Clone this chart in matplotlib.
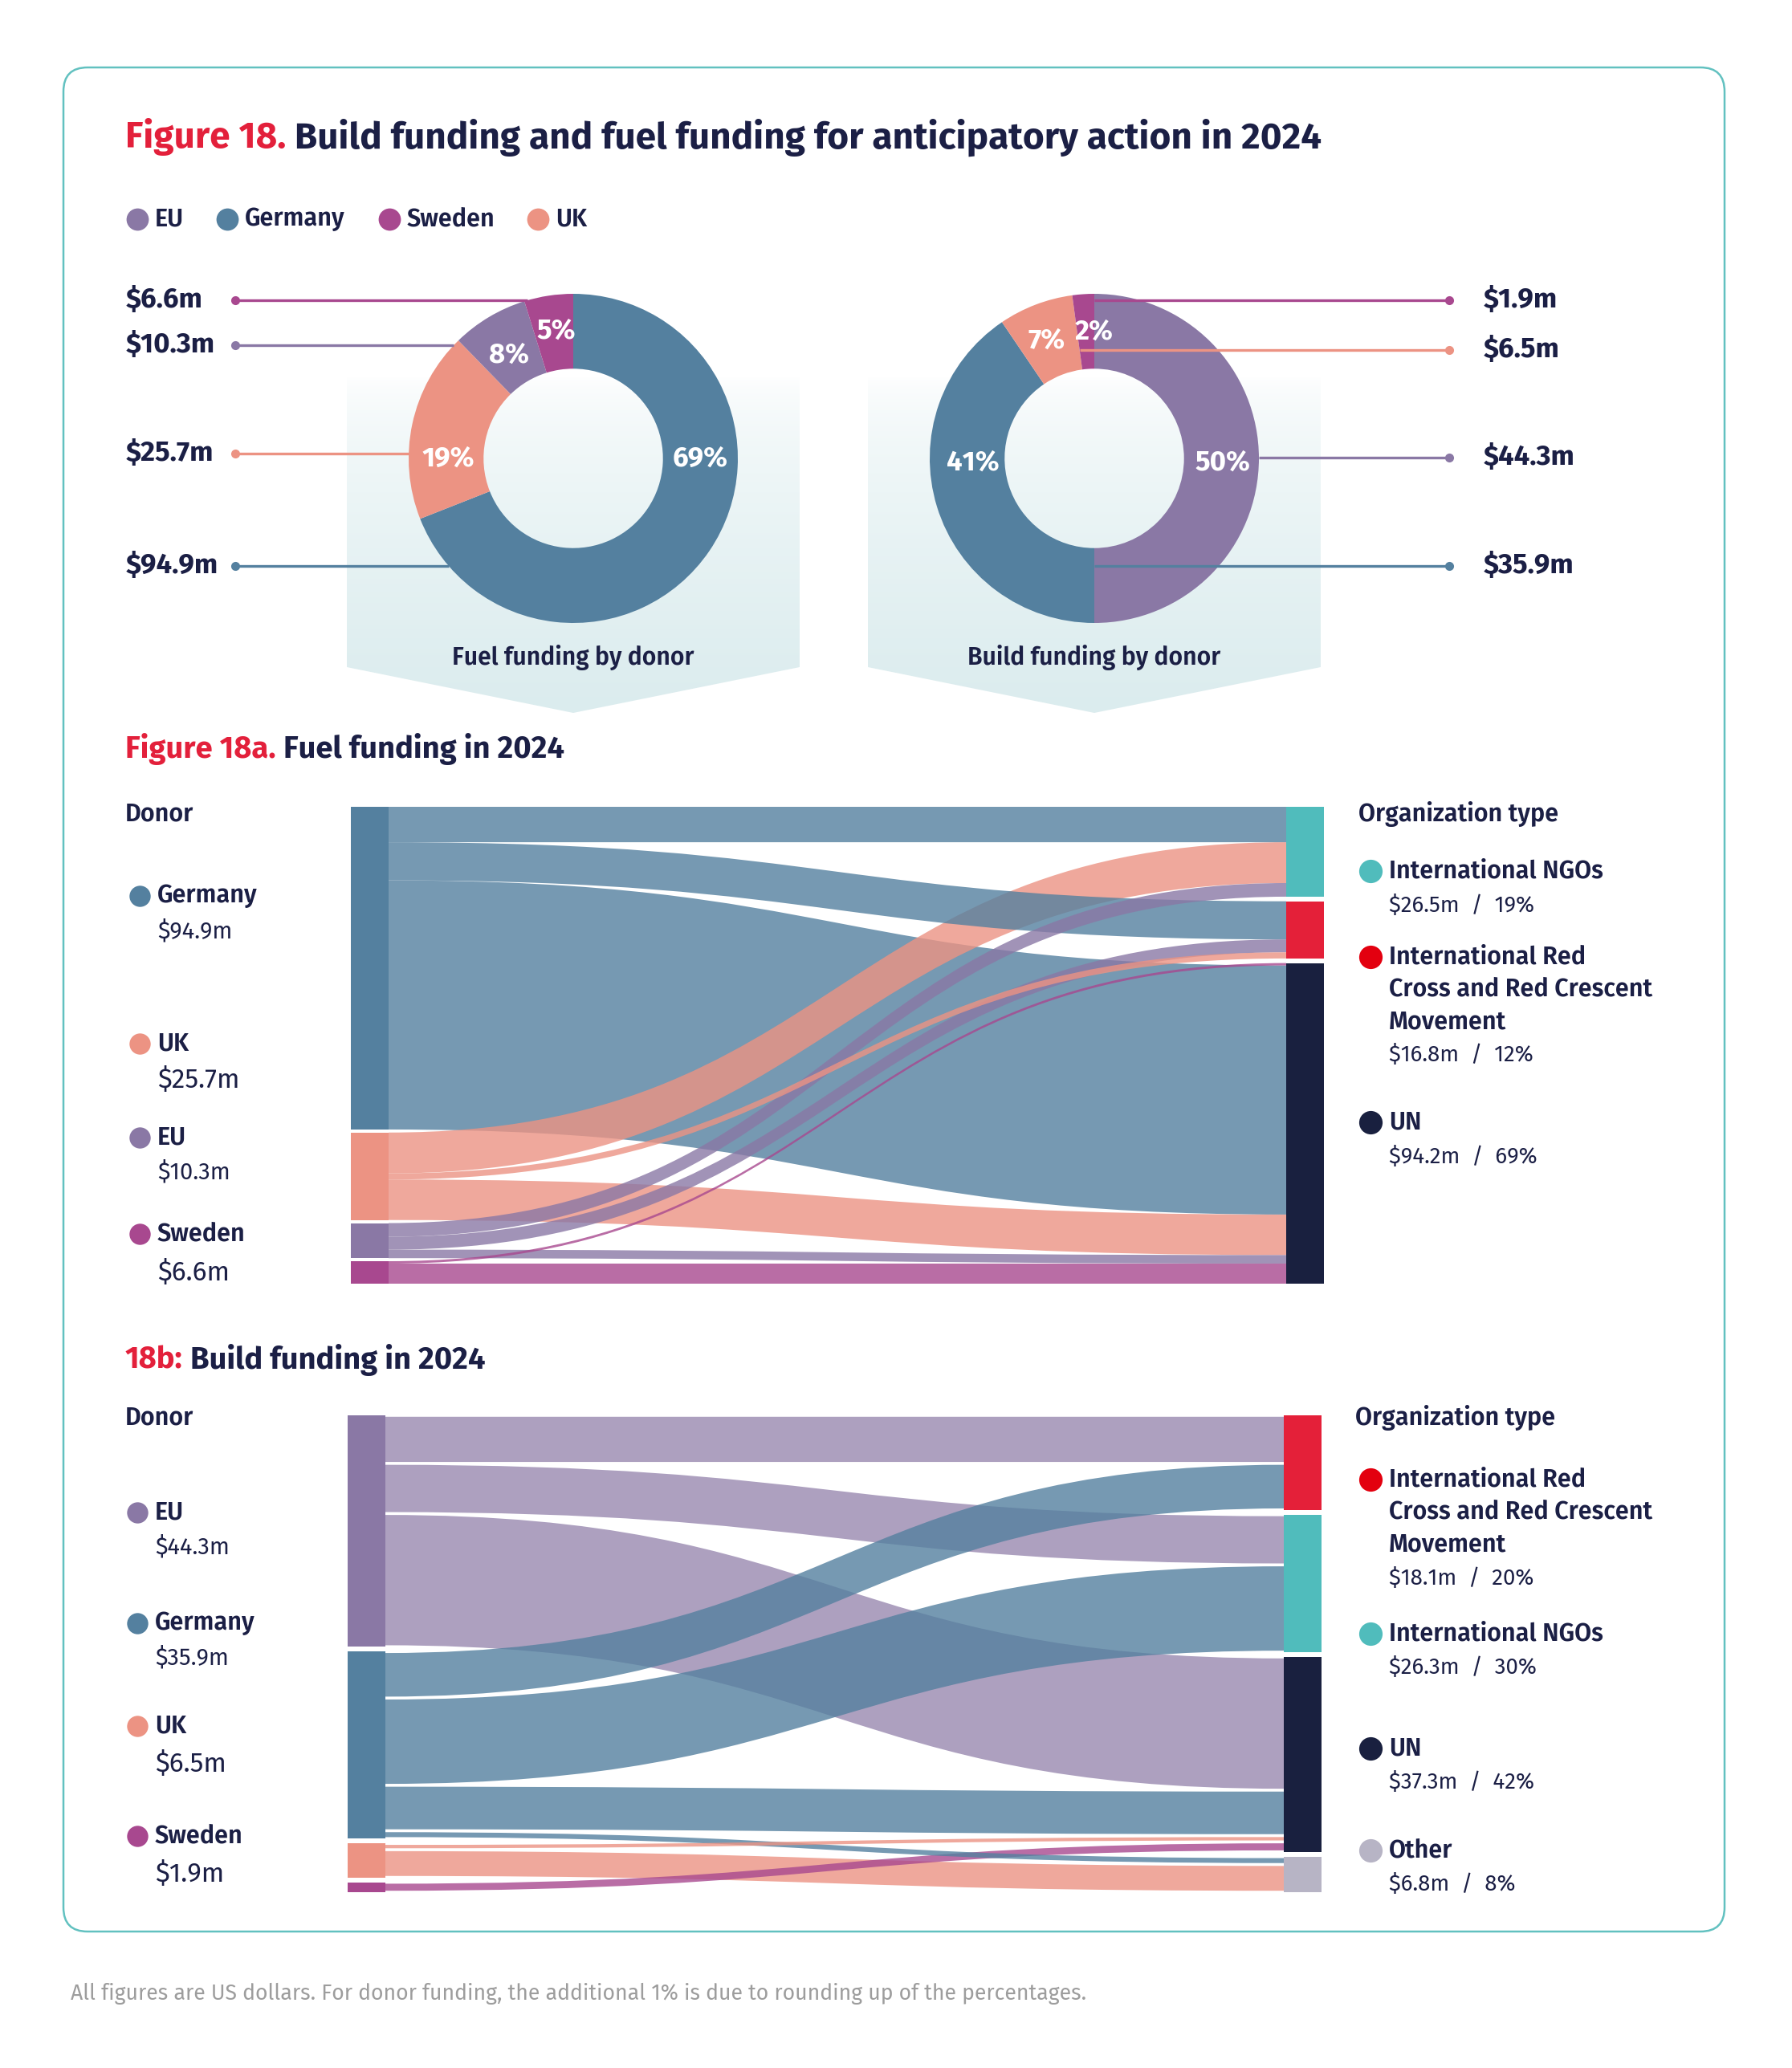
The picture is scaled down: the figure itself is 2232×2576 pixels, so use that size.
import numpy as np
import matplotlib
matplotlib.use("Agg")
import matplotlib.pyplot as plt
from matplotlib import font_manager
from matplotlib.patches import FancyBboxPatch, Polygon, PathPatch, Rectangle
from matplotlib.path import Path
from matplotlib.colors import to_rgb

W, H = 2232, 2576

available = {f.name for f in font_manager.fontManager.ttflist}
FONT = next(f for f in ["Fira Sans", "Open Sans", "Roboto", "DejaVu Sans"] if f in available)
plt.rcParams["font.family"] = FONT

NAVY = "#1b1f45"
RED = "#e3203b"
GREY = "#9d9d9d"
TEAL_LINE = "#62c1c0"

# ---------------- data ----------------
donor_colors = {"Germany": "#54809f", "UK": "#ec9383", "EU": "#8a78a5", "Sweden": "#a8488f"}
legend_donors = ["EU", "Germany", "Sweden", "UK"]

fuel_donors = ["Germany", "UK", "EU", "Sweden"]
fuel_amounts = [94.9, 25.7, 10.3, 6.6]
fuel_pct = ["69%", "19%", "8%", "5%"]

build_donors = ["EU", "Germany", "UK", "Sweden"]
build_amounts = [44.3, 35.9, 6.5, 1.9]
build_pct = ["50%", "41%", "7%", "2%"]

org_names = {"NGO": "International NGOs",
             "RC": "International Red\nCross and Red Crescent\nMovement",
             "UN": "UN", "Other": "Other"}
org_colors = {"NGO": "#50bcbc", "RC": "#e42039", "UN": "#19203f", "Other": "#b7b4c5"}
org_dot_colors = {"NGO": "#50bcbc", "RC": "#e3000f", "UN": "#19203f", "Other": "#b7b4c5"}

fuel_orgs = ["NGO", "RC", "UN"]
fuel_org_amounts = [26.5, 16.8, 94.2]
fuel_org_pct = [19, 12, 69]

build_orgs = ["RC", "NGO", "UN", "Other"]
build_org_amounts = [18.1, 26.3, 37.3, 6.8]
build_org_pct = [20, 30, 42, 8]

# flows donor -> organization type ($m)
fuel_src = ["Germany", "UK", "EU", "Germany", "EU", "UK", "Sweden", "Germany", "UK", "EU", "Sweden"]
fuel_dst = ["NGO", "NGO", "NGO", "RC", "RC", "RC", "UN", "UN", "UN", "UN", "UN"]
fuel_val = [10.5, 12.0, 4.0, 11.2, 3.8, 1.8, 0.7, 73.2, 11.9, 2.5, 5.9]

build_src = ["EU", "Germany", "EU", "Germany", "EU", "Germany", "UK", "Sweden", "Germany", "UK"]
build_dst = ["RC", "RC", "NGO", "NGO", "UN", "UN", "UN", "UN", "Other", "Other"]
build_val = [9.2, 8.9, 9.6, 16.7, 25.5, 8.7, 1.2, 1.9, 1.5, 5.3]

# ---------------- figure ----------------
fig = plt.figure(figsize=(W / 100, H / 100), dpi=100)
fig.patch.set_facecolor("white")

ax_bg = fig.add_axes([0, 0, 1, 1], zorder=0)
ax_bg.set_xlim(0, W)
ax_bg.set_ylim(H, 0)
ax_bg.axis("off")

ax = fig.add_axes([0, 0, 1, 1], zorder=5)
ax.set_xlim(0, W)
ax.set_ylim(H, 0)
ax.axis("off")
ax.patch.set_alpha(0)


def txt(x, y, s, size, color=NAVY, weight="normal", ha="left", va="center", **kw):
    return ax.text(x, y, s, fontsize=size, color=color, fontweight=weight, ha=ha, va=va, **kw)


# frame
ax_bg.add_patch(FancyBboxPatch((79, 84), 2069, 2322, boxstyle="round,pad=0,rounding_size=30",
                               ec=TEAL_LINE, fc="none", lw=1.8))

# title
t1 = txt(156, 171, "Figure 18.", 33, RED, "bold")
ax.annotate(" Build funding and fuel funding for anticipatory action in 2024", xy=(1, 0.5),
            xycoords=t1, va="center", ha="left", fontsize=33, color=NAVY, fontweight="bold")

# legend
legend_x = [171, 283, 485, 670]
for name, lx in zip(legend_donors, legend_x):
    ax.plot(lx, 273, "o", ms=20, color=donor_colors[name], mec="none")
    txt(lx + 22, 273, name, 22, weight="semibold")

# gradient panels behind donuts
top_c = np.array(to_rgb("#ffffff"))
bot_c = np.array(to_rgb("#dbecee"))
t = np.linspace(0, 1, 256) ** 0.6
grad = (top_c[None, :] * (1 - t[:, None]) + bot_c[None, :] * t[:, None])[:, None, :]
for cx in (714, 1363):
    poly = Polygon([(cx - 282, 469), (cx + 282, 469), (cx + 282, 831), (cx, 888), (cx - 282, 831)],
                   closed=True, fc="none", ec="none")
    ax_bg.add_patch(poly)
    im = ax_bg.imshow(grad, extent=(cx - 282, cx + 282, 888, 469), aspect="auto", zorder=1)
    im.set_clip_path(poly)
ax_bg.set_xlim(0, W)
ax_bg.set_ylim(H, 0)

# donuts
R = 205
CY = 571


def donut(cx, donors, amounts, pct, pct_pos, label_y, anchors, side, title):
    pa = fig.add_axes([(cx - R) / W, 1 - (CY + R) / H, 2 * R / W, 2 * R / H], zorder=3)
    pa.pie(amounts, colors=[donor_colors[d] for d in donors], startangle=90, counterclock=False,
           radius=1, wedgeprops=dict(width=0.455, edgecolor="none"))
    pa.set_xlim(-1, 1)
    pa.set_ylim(-1, 1)
    pa.set_aspect("auto")
    pa.axis("off")
    for s, (ang, r) in zip(pct, pct_pos):
        a = np.deg2rad(ang)
        pa.text(r * np.cos(a), r * np.sin(a), s, ha="center", va="center", color="white",
                fontsize=25, fontweight="bold")
    # leader lines and value labels
    for d, amt, ly, anc in zip(donors, amounts, label_y, anchors):
        dy = (CY - ly) / R
        if anc == "edge":
            x_end = cx + side * np.sqrt(max(1 - dy ** 2, 0)) * R
        else:
            x_end = cx + anc * R
        dot_x, lab_x = (293, 157) if side < 0 else (1805, 1848)
        ax.plot([dot_x, x_end], [ly, ly], color=donor_colors[d], lw=2.4, solid_capstyle="butt")
        ax.plot(dot_x, ly, "o", ms=8, color=donor_colors[d], mec="none")
        txt(lab_x, ly, f"${amt}m", 25, weight="bold")
    txt(cx, 819, title, 21.7, weight="semibold", ha="center")


donut(714, fuel_donors, fuel_amounts, fuel_pct,
      [(0, 0.77), (180, 0.76), (122, 0.74), (97.6, 0.78)],
      [705, 565, 430, 374], ["edge"] * 4, -1, "Fuel funding by donor")
donut(1363, build_donors, build_amounts, build_pct,
      [(-2, 0.78), (182, 0.74), (112, 0.77), (90, 0.77)],
      [570, 705, 436, 374], ["edge", 0.0, -0.09, 0.0], 1, "Build funding by donor")

# ---------------- sankeys ----------------
NODE_W = 47


def sankey(box, lefts, rights, src, dst, val, pad, link_gap, link_alpha):
    x0, y0, x1, y1 = box
    sa = fig.add_axes([x0 / W, 1 - y1 / H, (x1 - x0) / W, (y1 - y0) / H], zorder=2)
    wpx = x1 - x0
    ltot = {n: sum(v for s, v in zip(src, val) if s == n) for n in lefts}
    rtot = {n: sum(v for d, v in zip(dst, val) if d == n) for n in rights}
    span = sum(val) + pad
    sa.set_xlim(0, wpx)
    sa.set_ylim(span, 0)
    sa.axis("off")

    def stack(names, tots):
        gap = pad / (len(names) - 1)
        pos, y = {}, 0.0
        for n in names:
            pos[n] = y
            y += tots[n] + gap
        return pos

    lpos, rpos = stack(lefts, ltot), stack(rights, rtot)
    for n in lefts:
        sa.add_patch(Rectangle((0, lpos[n]), NODE_W, ltot[n], color=donor_colors[n], lw=0))
    for n in rights:
        sa.add_patch(Rectangle((wpx - NODE_W, rpos[n]), NODE_W, rtot[n], color=org_colors[n], lw=0))

    lcur, rcur = dict(lpos), dict(rpos)
    bands = []
    for s, d, v in zip(src, dst, val):
        a, b = lcur[s], rcur[d]
        lcur[s] += v
        rcur[d] += v
        bands.append((s, v, a + link_gap / 2, b + link_gap / 2, v - link_gap))
    xa, xb = NODE_W, wpx - NODE_W
    xm = (xa + xb) / 2
    codes = [Path.MOVETO, Path.CURVE4, Path.CURVE4, Path.CURVE4, Path.LINETO,
             Path.CURVE4, Path.CURVE4, Path.CURVE4, Path.CLOSEPOLY]
    for s, v, a, b, th in sorted(bands, key=lambda k: -k[1]):
        verts = [(xa, a), (xm, a), (xm, b), (xb, b), (xb, b + th),
                 (xm, b + th), (xm, a + th), (xa, a + th), (xa, a)]
        sa.add_patch(PathPatch(Path(verts, codes), fc=donor_colors[s],
                               alpha=link_alpha.get(s, 0.8), lw=0))
    return sa


def side_labels(lefts, amounts, big, dot_y, val_y, dot_x, rights, r_amounts, r_pct, r_dot_y, r_val_y,
                head_y, org_x):
    txt(156, head_y, "Donor", 22, weight="semibold")
    txt(org_x, head_y, "Organization type", 22, weight="semibold")
    for n, amt, b, dy, vy in zip(lefts, amounts, big, dot_y, val_y):
        ax.plot(dot_x, dy, "o", ms=19, color=donor_colors[n], mec="none")
        txt(dot_x + 22, dy, n, 22, weight="semibold")
        txt(dot_x + 22, vy, f"${amt}m", 24 if b else 21)
    for n, amt, p, dy, vy in zip(rights, r_amounts, r_pct, r_dot_y, r_val_y):
        ax.plot(1707, dy, "o", ms=21, color=org_dot_colors[n], mec="none")
        for i, line in enumerate(org_names[n].split("\n")):
            txt(1730, dy + i * 40.5, line, 22, weight="semibold")
        txt(1730, vy, f"${amt}m  /  {p}%", 20)


# 18a
t2 = txt(156, 933, "Figure 18a.", 27.5, RED, "bold")
ax.annotate(" Fuel funding in 2024", xy=(1, 0.5), xycoords=t2, va="center", ha="left",
            fontsize=27.5, color=NAVY, fontweight="bold")
sankey((437, 1004.6, 1649, 1599), fuel_donors, fuel_orgs, fuel_src, fuel_dst, fuel_val, 2.7, 0.0, {})
side_labels(fuel_donors, fuel_amounts, [False, True, False, True],
            [1116, 1300, 1417, 1537], [1160, 1345, 1460, 1585], 174,
            fuel_orgs, fuel_org_amounts, fuel_org_pct, [1085, 1192, 1398], [1128, 1314, 1441],
            1014, 1692)

# 18b
t3 = txt(156, 1694, "18b:", 27.5, RED, "bold")
ax.annotate(" Build funding in 2024", xy=(1, 0.5), xycoords=t3, va="center", ha="left",
            fontsize=27.5, color=NAVY, fontweight="bold")
sankey((433, 1763, 1646, 2357), build_donors, build_orgs, build_src, build_dst, build_val, 2.8, 0.55,
       {"EU": 0.7})
side_labels(build_donors, build_amounts, [False, False, True, True],
            [1884, 2022, 2150, 2287], [1927, 2065, 2197, 2334], 171,
            build_orgs, build_org_amounts, build_org_pct, [1843, 2035, 2178, 2305],
            [1966, 2077, 2220, 2347], 1766, 1688)

# footnote
txt(88, 2483, "All figures are US dollars. For donor funding, the additional 1% is due to rounding up "
    "of the percentages.", 19.2, GREY)

fig.savefig("out.png", dpi=100, facecolor="white")
